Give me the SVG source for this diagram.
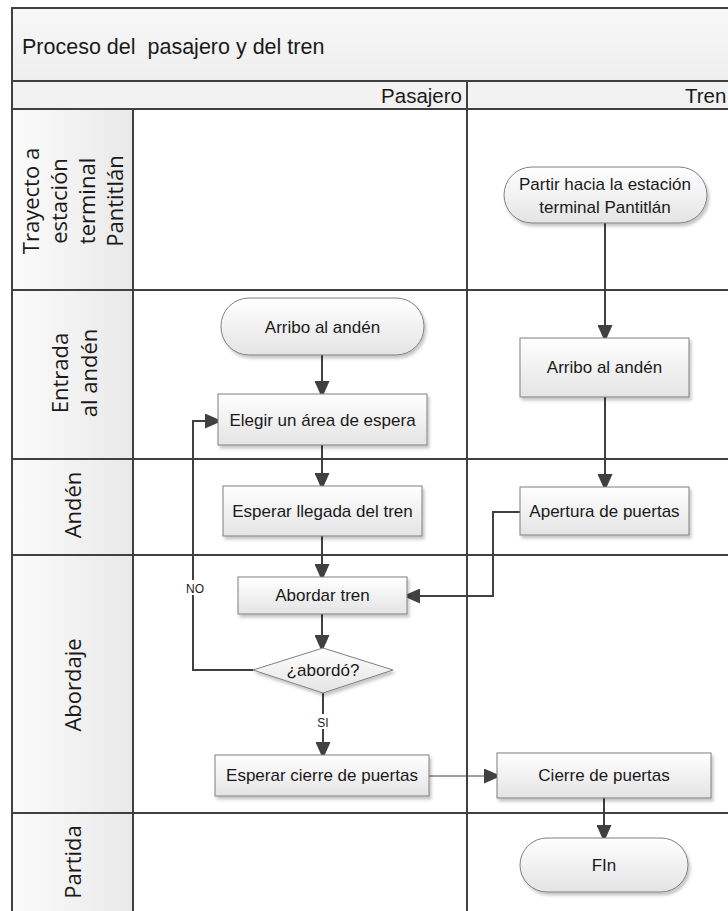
<svg xmlns="http://www.w3.org/2000/svg" width="728" height="911" viewBox="0 0 728 911">
<style>
.lane{fill:none;stroke:#404040;stroke-width:2}
.box{stroke:#7f7f7f;stroke-width:1;fill:url(#gBox);filter:url(#sh)}
.nt{font-family:"Liberation Sans",Arial,sans-serif;font-size:17px;fill:#1a1a1a;text-anchor:middle}
.lt{font-family:"Open Sans","DejaVu Sans",sans-serif;font-size:22px;fill:#1a1a1a;text-anchor:middle}
.hd{font-family:"Liberation Sans",Arial,sans-serif;font-size:20.5px;fill:#1a1a1a}
.cn{fill:none;stroke:#404040;stroke-width:2}
.lb{font-family:"Liberation Sans",Arial,sans-serif;font-size:12px;fill:#1a1a1a;text-anchor:middle}
</style>
<defs>
<linearGradient id="gBox" x1="0" y1="0" x2="0" y2="1"><stop offset="0" stop-color="#ffffff"/><stop offset="1" stop-color="#e4e4e4"/></linearGradient>
<linearGradient id="gLab" x1="0" y1="0" x2="1" y2="0"><stop offset="0" stop-color="#fbfbfb"/><stop offset="1" stop-color="#e9e9e9"/></linearGradient>
<linearGradient id="gHead" x1="0" y1="0" x2="0" y2="1"><stop offset="0" stop-color="#f8f8f8"/><stop offset="1" stop-color="#eeeeee"/></linearGradient>
<filter id="sh" x="-10%" y="-10%" width="130%" height="140%"><feDropShadow dx="2" dy="3" stdDeviation="1.5" flood-color="#000" flood-opacity="0.22"/></filter>
<marker id="ah" markerUnits="userSpaceOnUse" viewBox="0 0 17 15" markerWidth="17" markerHeight="15" refX="13" refY="7.5" orient="auto"><path d="M0,0 L17,7.5 L0,15 z" fill="#404040"/></marker>
</defs>
<rect width="728" height="911" fill="#ffffff"/>
<g id="pool">
<rect x="12" y="8" width="730" height="73" fill="url(#gHead)"/>
<rect x="12" y="81" width="730" height="28" fill="#f2f2f2"/>
<rect x="12" y="109" width="121" height="810" fill="url(#gLab)"/>
<rect x="12" y="8" width="740" height="920" class="lane"/>
<line x1="12" y1="81" x2="740" y2="81" class="lane"/>
<line x1="12" y1="109" x2="740" y2="109" class="lane"/>
<line x1="467" y1="81" x2="467" y2="920" class="lane"/>
<line x1="133" y1="109" x2="133" y2="920" class="lane"/>
<line x1="12" y1="290" x2="740" y2="290" class="lane"/>
<line x1="12" y1="459" x2="740" y2="459" class="lane"/>
<line x1="12" y1="555" x2="740" y2="555" class="lane"/>
<line x1="12" y1="813" x2="740" y2="813" class="lane"/>
<text x="22" y="54" class="hd" style="font-size:21.5px" xml:space="preserve">Proceso del  pasajero y del tren</text>
<text x="462" y="103" class="hd" text-anchor="end">Pasajero</text>
<text x="685" y="103" class="hd">Tren</text>
</g>
<g id="lanes">
<text class="lt" transform="translate(39,201) rotate(-90)">Trayecto a</text>
<text class="lt" transform="translate(67,201) rotate(-90)">estación</text>
<text class="lt" transform="translate(95,201) rotate(-90)">terminal</text>
<text class="lt" transform="translate(123,201) rotate(-90)">Pantitlán</text>
<text class="lt" transform="translate(68,373) rotate(-90)">Entrada</text>
<text class="lt" transform="translate(97,373) rotate(-90)">al andén</text>
<text class="lt" transform="translate(81,505) rotate(-90)">Andén</text>
<text class="lt" transform="translate(81,685) rotate(-90)">Abordaje</text>
<text class="lt" transform="translate(81,862) rotate(-90)">Partida</text>
</g>
<g id="connectors">
<path class="cn" d="M605,223 V338" marker-end="url(#ah)"/>
<path class="cn" d="M605,397 V487" marker-end="url(#ah)"/>
<path class="cn" d="M520,512 H493 V596 H407" marker-end="url(#ah)"/>
<path class="cn" d="M322,355 V394" marker-end="url(#ah)"/>
<path class="cn" d="M322,445 V486" marker-end="url(#ah)"/>
<path class="cn" d="M322,536 V577" marker-end="url(#ah)"/>
<path class="cn" d="M322,614 V648" marker-end="url(#ah)"/>
<path class="cn" d="M253,670 H193 V421 H218" marker-end="url(#ah)"/>
<path class="cn" d="M323,693 V755" marker-end="url(#ah)"/>
<path class="cn" d="M429,776 H497" style="stroke-width:1" marker-end="url(#ah)"/>
<path class="cn" d="M604,798 V838" marker-end="url(#ah)"/>
<rect x="184" y="580" width="20" height="15" fill="#ffffff"/>
<text x="195" y="593" class="lb">NO</text>
<rect x="316" y="714" width="14" height="15" fill="#ffffff"/>
<text x="323" y="727" class="lb">SI</text>
</g>
<g id="n_partir">
<rect x="504" y="167" width="203" height="56" rx="28" class="box"/>
<text x="605" y="190" class="nt">Partir hacia la estación</text>
<text x="605" y="213" class="nt">terminal Pantitlán</text>
</g>
<g id="n_arribo_tren">
<rect x="520" y="338" width="169" height="59" class="box"/>
<text x="604.5" y="373" class="nt">Arribo al andén</text>
</g>
<g id="n_apertura">
<rect x="520" y="487" width="169" height="48" class="box"/>
<text x="604.5" y="517" class="nt">Apertura de puertas</text>
</g>
<g id="n_arribo_pas">
<rect x="221" y="298" width="203" height="57" rx="28" class="box"/>
<text x="322.5" y="333" class="nt">Arribo al andén</text>
</g>
<g id="n_elegir">
<rect x="218" y="394" width="209" height="51" class="box"/>
<text x="322.5" y="426" class="nt">Elegir un área de espera</text>
</g>
<g id="n_esperar_llegada">
<rect x="223" y="486" width="199" height="50" class="box"/>
<text x="322.5" y="517" class="nt">Esperar llegada del tren</text>
</g>
<g id="n_abordar">
<rect x="238" y="577" width="169" height="37" class="box"/>
<text x="322.5" y="601" class="nt">Abordar tren</text>
</g>
<g id="n_abordo">
<polygon points="253,670 323,648 393,670 323,693" class="box"/>
<text x="323" y="676" class="nt">¿abordó?</text>
</g>
<g id="n_esperar_cierre">
<rect x="215" y="755" width="214" height="41" class="box"/>
<text x="322" y="781" class="nt">Esperar cierre de puertas</text>
</g>
<g id="n_cierre">
<rect x="497" y="753" width="214" height="45" class="box"/>
<text x="604" y="781" class="nt">Cierre de puertas</text>
</g>
<g id="n_fin">
<rect x="520" y="838" width="168" height="54" rx="27" class="box"/>
<text x="604" y="871" class="nt">FIn</text>
</g>
</svg>
